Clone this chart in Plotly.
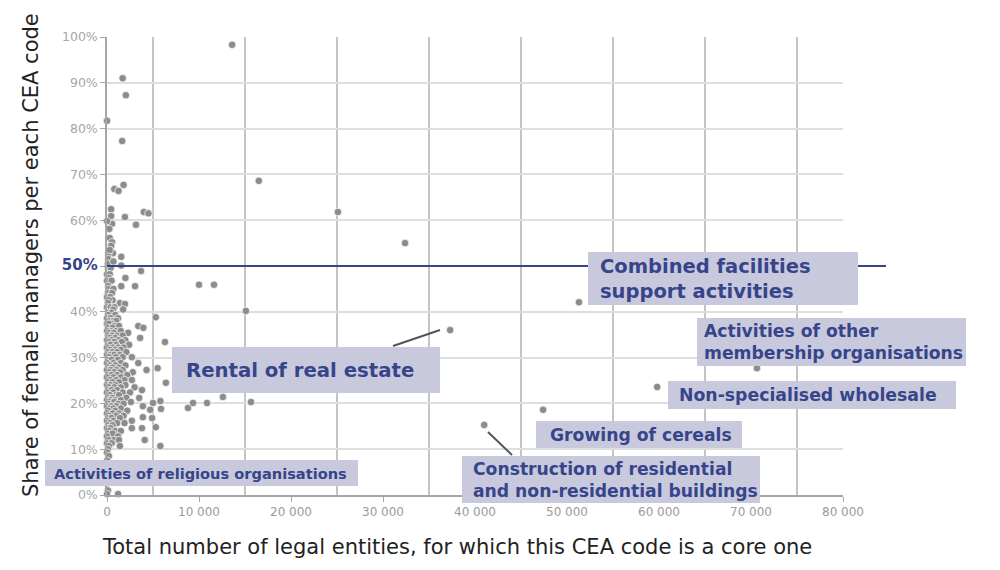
import plotly.graph_objects as go

# ---- data (x = number of legal entities, y = share of female managers, %) ----
cluster_x = [
    100, 400, 3700, 0, 300, 200, 2000, 0, 500, 150, 1550, 3050, 300, 700,
    100, 550, 0, 350, 600, 200, 1400, 100, 1950, 0, 400, 800, 650, 1750,
    200, 500, 100, 900, 1200, 0, 400, 300, 700, 1000, 0, 500, 200,
    3400, 800, 1300, 3950, 100, 600, 400, 1000, 1500, 0, 2300, 200, 750,
    100, 600, 1100, 1700, 3600, 300, 900, 0, 500, 1300, 2000,
    6300, 200, 800, 1600, 100, 400, 1000, 2400, 0, 700, 1200, 1800,
    300, 900, 1500, 100, 600, 2100, 1100, 0, 400, 800, 1400,
    200, 1000, 1700, 2700, 100, 500, 1200, 3400, 0, 700, 1500,
    300, 900, 2000, 5500, 100, 600, 1300, 4300, 0, 400, 1000, 1700,
    2800, 200, 800, 1400, 100, 500, 1100, 2200, 0, 700, 1500,
    300, 1000, 1900, 2700, 6400, 100, 600, 1300, 0, 400, 900, 2000,
    200, 800, 1500, 3000, 3800, 100, 500, 1100, 0, 700, 1700, 2500,
    300, 1000, 1300, 100, 600, 2100, 3500, 0, 400, 900, 1500,
    5800, 200, 800, 2600, 5000, 100, 1200, 1800, 0, 500, 1000, 3900,
    4700, 300, 700, 1500, 100, 900, 2200, 0, 600, 1300, 3900,
    200, 1000, 1800, 100, 500, 1400, 4900, 0, 700, 2700,
    300, 1100, 1900, 5300, 100, 600, 3800, 0, 400, 2700,
    200, 900, 1500, 100, 600, 0, 1200, 4100, 300, 800, 1300,
    5800, 0, 500, 200, 1400, 100, 0, 200, 0, 100, 0, 50, 0, 100, 0, 1200,
    5870, 5300,
]
cluster_y = [
    49.6, 49.6, 48.9, 48.2, 48.2, 47.4, 47.4, 46.8, 46.8, 45.6, 45.6, 45.6, 45.0, 45.0,
    44.1, 44.1, 43.2, 43.2, 42.5, 42.5, 41.9, 41.9, 41.7, 41.0, 41.0, 41.0, 40.5, 40.5,
    39.8, 39.8, 39.3, 39.3, 38.6, 38.6, 38.6, 38.0, 38.0, 38.0, 37.4, 37.4, 37.4,
    36.9, 36.9, 36.9, 36.5, 36.5, 36.5, 35.8, 35.8, 35.8, 35.8, 35.4, 35.4, 35.4,
    34.8, 34.8, 34.8, 34.8, 34.3, 34.3, 34.3, 33.8, 33.8, 33.8, 33.8,
    33.4, 33.4, 33.4, 33.4, 32.8, 32.8, 32.8, 32.8, 32.2, 32.2, 32.2, 32.2,
    31.7, 31.7, 31.7, 31.2, 31.2, 31.2, 31.2, 30.6, 30.6, 30.6, 30.6,
    30.1, 30.1, 30.1, 30.1, 29.5, 29.5, 29.5, 28.8, 28.8, 28.8, 28.8,
    28.3, 28.3, 28.3, 27.7, 27.8, 27.8, 27.8, 27.3, 27.3, 27.3, 27.3, 27.3,
    26.8, 26.8, 26.8, 26.8, 26.2, 26.2, 26.2, 26.2, 25.7, 25.7, 25.7,
    25.1, 25.1, 25.1, 25.1, 24.5, 24.6, 24.6, 24.6, 24.0, 24.0, 24.0, 24.0,
    23.5, 23.5, 23.5, 23.5, 22.9, 22.9, 22.9, 22.9, 22.4, 22.4, 22.4, 22.4,
    21.8, 21.8, 21.8, 21.2, 21.2, 21.2, 21.2, 20.7, 20.7, 20.7, 20.7,
    20.5, 20.3, 20.3, 20.3, 20.1, 19.9, 19.9, 19.9, 19.4, 19.4, 19.4, 19.4,
    18.6, 18.9, 18.9, 18.9, 18.4, 18.4, 18.4, 17.8, 17.8, 17.8, 17.0,
    17.3, 17.3, 17.3, 16.8, 16.8, 16.8, 16.8, 16.2, 16.2, 16.2,
    15.7, 15.7, 15.7, 14.8, 15.2, 15.2, 14.6, 14.6, 14.6, 14.6,
    14.0, 14.0, 14.0, 13.4, 13.4, 12.8, 12.8, 12.0, 12.0, 12.0, 12.0,
    10.7, 11.3, 11.3, 10.7, 10.7, 10.0, 9.3, 8.5, 7.5, 6.5, 5.5, 4.0, 2.5, 1.0, 0.2, 0.2,
    18.8, 38.8,
]
upper_x = [0, 1700, 2050, 1650, 1800, 800, 1250, 4000, 4500, 1950, 3150,
           450, 450, 550, 0, 250, 300, 550, 450, 650, 150, 150, 1550, 1550, 300, 100, 700]
upper_y = [81.7, 91.0, 87.3, 77.3, 67.7, 66.8, 66.4, 61.8, 61.5, 60.7, 59.0,
           62.4, 60.9, 59.2, 59.8, 58.1, 56.1, 55.2, 54.4, 52.8, 52.6, 51.5, 52.0, 50.1, 53.5, 50.5, 51.0]
outlier_x = [10000, 11630, 15100, 8800, 9350, 10870, 12600, 15650,
             13600, 16500, 25100, 32400, 51300, 37300, 70650, 59800, 47400, 41000]
outlier_y = [45.9, 45.9, 40.2, 19.0, 20.1, 20.1, 21.4, 20.3,
             98.3, 68.6, 61.8, 55.0, 42.1, 36.0, 27.7, 23.6, 18.6, 15.3]

x_ticks = [0, 10000, 20000, 30000, 40000, 50000, 60000, 70000, 80000]
x_ticklabels = ["0", "10\u00a0000", "20\u00a0000", "30\u00a0000", "40\u00a0000",
                "50\u00a0000", "60\u00a0000", "70\u00a0000", "80\u00a0000"]
y_ticks = [0, 10, 20, 30, 40, 50, 60, 70, 80, 90, 100]
y_ticklabels = ["0%", "10%", "20%", "30%", "40%",
                "<span style='color:#36458a;font-size:15px'><b>50%</b></span>",
                "60%", "70%", "80%", "90%", "100%"]

threshold = 50

# labels: text, box (left, top, right, bottom) in pixels, font size
labels = [
    ("Combined facilities<br>support activities", (588, 252, 858, 305), 19.5),
    ("Activities of other<br>membership organisations", (697, 318, 966, 366), 17.2),
    ("Non-specialised wholesale", (668, 381, 956, 409), 17.3),
    ("Growing of cereals", (536, 421, 742, 448), 17.2),
    ("Construction of residential<br>and non-residential buildings", (462, 456, 760, 503), 17.2),
    ("Rental of real estate", (172, 347, 440, 393), 19.7),
    ("Activities of religious organisations", (45, 460, 358, 486), 14.6),
]
label_pad = [10, 5, 9, 12, 9, 12, 7]
leaders = [((393, 346), (440, 330)), ((488, 432), (512, 455))]

# ---- layout geometry ----
W, H = 1000, 570
L, R, T, B = 107, 843, 37, 495


def px(xp):
    return (xp - L) / (R - L)


def py(yp):
    return (B - yp) / (B - T)


FONT = "DejaVu Sans"
BLUE = "#36458a"
BOX = "#c9c9de"
DOT = "#8c8c8c"

fig = go.Figure()
marker = dict(color=DOT, size=7.5, line=dict(color="white", width=0.7))
for xs, ys in [(cluster_x, cluster_y), (upper_x, upper_y), (outlier_x, outlier_y)]:
    fig.add_trace(go.Scatter(x=xs, y=ys, mode="markers", marker=marker,
                             cliponaxis=False, showlegend=False, hoverinfo="skip"))

shapes = []
# 50% line
shapes.append(dict(type="line", xref="paper", yref="paper", x0=0, x1=px(886),
                   y0=threshold / 100, y1=threshold / 100,
                   line=dict(color=BLUE, width=2.2), layer="above"))
for (a, b) in leaders:
    shapes.append(dict(type="line", xref="paper", yref="paper",
                       x0=px(a[0]), y0=py(a[1]), x1=px(b[0]), y1=py(b[1]),
                       line=dict(color="#555555", width=2), layer="above"))
annotations = []
for (text, (x0, y0, x1, y1), fs), pad in zip(labels, label_pad):
    shapes.append(dict(type="rect", xref="paper", yref="paper",
                       x0=px(x0), x1=px(x1), y0=py(y1), y1=py(y0),
                       fillcolor=BOX, line=dict(width=0), layer="above"))
    annotations.append(dict(xref="paper", yref="paper", x=px(x0 + pad), y=py((y0 + y1) / 2),
                            xanchor="left", yanchor="middle", align="left",
                            text="<b>" + text + "</b>", showarrow=False,
                            font=dict(family=FONT, size=fs, color=BLUE)))

annotations.append(dict(xref="paper", yref="paper", x=px(457), y=py(547),
                        xanchor="center", yanchor="middle", showarrow=False,
                        text="Total number of legal entities, for which this CEA code is a core one",
                        font=dict(family=FONT, size=21, color="#222222")))
annotations.append(dict(xref="paper", yref="paper", x=px(31), y=py(255),
                        xanchor="center", yanchor="middle", showarrow=False, textangle=-90,
                        text="Share of female managers per each CEA code",
                        font=dict(family=FONT, size=21, color="#222222")))

fig.update_layout(
    width=W, height=H,
    margin=dict(l=L, r=W - R, t=T, b=H - B, pad=0),
    paper_bgcolor="white", plot_bgcolor="white",
    font=dict(family=FONT),
    shapes=shapes, annotations=annotations,
    xaxis=dict(range=[0, 80000], tickvals=x_ticks, ticktext=x_ticklabels,
               showgrid=False, zeroline=False, showline=True, linecolor="#a6a6a6",
               linewidth=1.5, ticks="outside", ticklen=5, tickcolor="#a6a6a6",
               tickfont=dict(family=FONT, size=12, color="#9a9a9a"),
               minor=dict(tick0=5000, dtick=10000, showgrid=True,
                          gridcolor="#c4c4c4", gridwidth=1.5, ticks="")),
    yaxis=dict(range=[0, 100], tickvals=y_ticks, ticktext=y_ticklabels,
               showgrid=True, gridcolor="#dedede", gridwidth=1.5, zeroline=False,
               showline=True, linecolor="#a6a6a6", linewidth=1.5,
               ticks="outside", ticklen=5, tickcolor="#a6a6a6",
               tickfont=dict(family=FONT, size=12.5, color="#a6a6a6")),
)

fig.write_html("out.html")
